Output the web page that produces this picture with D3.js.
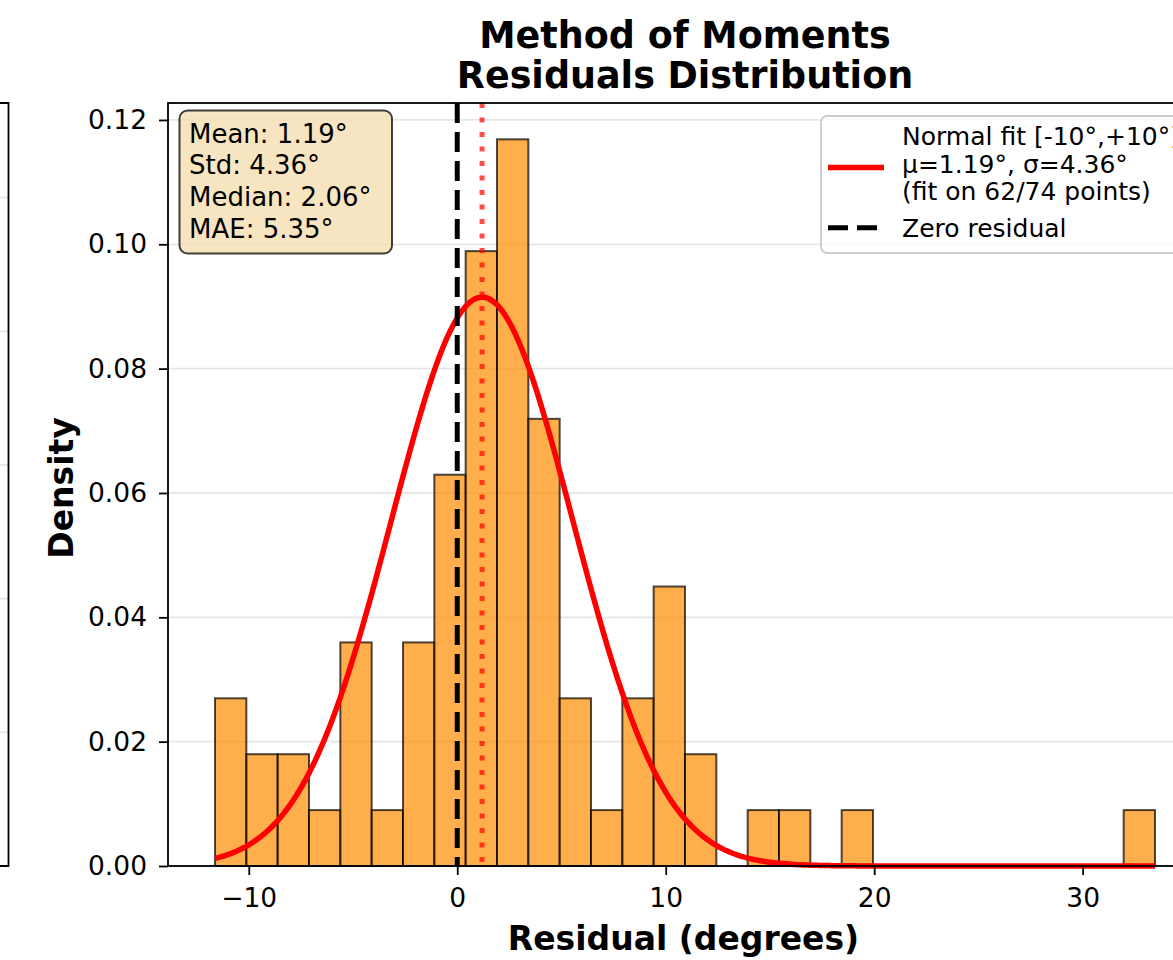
<!DOCTYPE html>
<html>
<head>
<meta charset="utf-8">
<script src="https://cdn.jsdelivr.net/npm/d3@7"></script>
<style>
  body { margin: 0; background: #fff; }
  text { font-family: "DejaVu Sans", sans-serif; fill: #000; }
</style>
</head>
<body>
<div id="canvas"></div>
<script>
// residual histogram: counts per bin
var binCounts = [3, 2, 2, 1, 4, 1, 4, 7, 11, 13, 8, 3, 1, 3, 5, 2, 0, 1, 1, 0, 1, 0, 0, 0, 0, 0, 0, 0, 0, 1];
var binStart = -11.62;
var binWidth = 1.503;
var nPoints = 74;

var fitMu = 1.19, fitSigma = 4.36;
var xTicks = [-10, 0, 10, 20, 30];
var yTicks = [0, 0.02, 0.04, 0.06, 0.08, 0.10, 0.12];
var statLines = ["Mean: 1.19°", "Std: 4.36°", "Median: 2.06°", "MAE: 5.35°"];
var fitLabel = ["Normal fit [-10°,+10°]", "μ=1.19°, σ=4.36°", "(fit on 62/74 points)"];
var zeroLabel = ["Zero residual"];
var titleLines = ["Method of Moments", "Residuals Distribution"];
var leftPanelGrid = [1, 2, 3, 4, 5]; // grid of the neighbouring panel, cut off at the left

var W = 1173, H = 960;
var plot = {left: 168, right: 1202, top: 103, bottom: 866};

var svg = d3.select("#canvas")
  .append("svg")
  .attr("width", W)
  .attr("height", H);

var bins = binCounts.map(function (c, i) {
  return {x0: binStart + i * binWidth, x1: binStart + (i + 1) * binWidth, density: c / (nPoints * binWidth)};
});
var dataMin = binStart, dataMax = binStart + binCounts.length * binWidth;
var pad = (dataMax - dataMin) * 0.05;
var maxDensity = d3.max(bins, function (d) { return d.density; });

var x = d3.scaleLinear()
  .domain([dataMin - pad, dataMax + pad])
  .range([plot.left, plot.right]);

var y = d3.scaleLinear()
  .domain([0, maxDensity * 1.05])
  .range([plot.bottom, plot.top]);

// neighbouring panel (only its right edge shows)
var yLeft = d3.scaleLinear().domain([0, 5.707]).range([plot.bottom, plot.top]);
svg.append("g").selectAll("line")
  .data(leftPanelGrid)
  .enter().append("line")
  .attr("x1", 0).attr("x2", 8.5)
  .attr("y1", function (d) { return yLeft(d); })
  .attr("y2", function (d) { return yLeft(d); })
  .attr("stroke", "#b0b0b0").attr("stroke-opacity", 0.3).attr("stroke-width", 1.8);
svg.append("path")
  .attr("d", "M0," + plot.top + "H8.5V" + plot.bottom + "H0")
  .attr("fill", "none").attr("stroke", "#000").attr("stroke-width", 1.8);

var g = svg.append("g");

// horizontal grid
g.append("g").selectAll("line")
  .data(yTicks)
  .enter().append("line")
  .attr("x1", plot.left).attr("x2", plot.right)
  .attr("y1", function (d) { return y(d); })
  .attr("y2", function (d) { return y(d); })
  .attr("stroke", "#b0b0b0")
  .attr("stroke-opacity", 0.3)
  .attr("stroke-width", 1.8);

// bars
g.append("g").selectAll("rect")
  .data(bins.filter(function (d) { return d.density > 0; }))
  .enter().append("rect")
  .attr("x", function (d) { return x(d.x0); })
  .attr("width", function (d) { return x(d.x1) - x(d.x0); })
  .attr("y", function (d) { return y(d.density); })
  .attr("height", function (d) { return y(0) - y(d.density); })
  .attr("fill", "#ff8c00")
  .attr("fill-opacity", 0.7)
  .attr("stroke", "#000")
  .attr("stroke-opacity", 0.7)
  .attr("stroke-width", 2);

// normal fit curve
var pdf = function (v) {
  return Math.exp(-0.5 * Math.pow((v - fitMu) / fitSigma, 2)) / (fitSigma * Math.sqrt(2 * Math.PI));
};
var curveX = d3.range(0, 301).map(function (i) { return dataMin + (dataMax - dataMin) * i / 300; });
g.append("path")
  .datum(curveX)
  .attr("d", d3.line().x(function (d) { return x(d); }).y(function (d) { return y(pdf(d)); }))
  .attr("fill", "none")
  .attr("stroke", "#ff0000")
  .attr("stroke-width", 5.5);

// zero residual and mean
g.append("line")
  .attr("x1", x(0)).attr("x2", x(0))
  .attr("y1", plot.top).attr("y2", plot.bottom)
  .attr("stroke", "#000").attr("stroke-width", 5)
  .attr("stroke-dasharray", "20,9");
g.append("line")
  .attr("x1", x(fitMu)).attr("x2", x(fitMu))
  .attr("y1", plot.top).attr("y2", plot.bottom)
  .attr("stroke", "#ff0000").attr("stroke-opacity", 0.7).attr("stroke-width", 5)
  .attr("stroke-dasharray", "5,9.5");

// spines
g.append("rect")
  .attr("x", plot.left).attr("y", plot.top)
  .attr("width", plot.right - plot.left).attr("height", plot.bottom - plot.top)
  .attr("fill", "none").attr("stroke", "#000").attr("stroke-width", 1.8);

// axes
var xAxisCall = d3.axisBottom(x)
  .tickValues(xTicks)
  .tickSize(9)
  .tickPadding(13)
  .tickFormat(function (d) { return d < 0 ? "\u2212" + Math.abs(d) : d; });
var xAxis = svg.append("g")
  .attr("transform", "translate(0," + plot.bottom + ")")
  .call(xAxisCall);

var yAxisCall = d3.axisLeft(y)
  .tickValues(yTicks)
  .tickSize(9)
  .tickPadding(12)
  .tickFormat(d3.format(".2f"));
var yAxis = svg.append("g")
  .attr("transform", "translate(" + plot.left + ",0)")
  .call(yAxisCall);

[xAxis, yAxis].forEach(function (a) {
  a.select(".domain").remove();
  a.selectAll(".tick line").attr("stroke", "#000").attr("stroke-width", 1.8);
  a.selectAll(".tick text")
    .style("font-family", "'DejaVu Sans', sans-serif")
    .style("font-size", "26.5px")
    .attr("fill", "#000");
});

// axis labels
svg.append("text")
  .attr("x", 683.5)
  .attr("y", 950)
  .attr("text-anchor", "middle")
  .style("font-size", "33px").style("font-weight", "bold")
  .text("Residual (degrees)");
svg.append("text")
  .attr("transform", "translate(73,488) rotate(-90)")
  .attr("text-anchor", "middle")
  .style("font-size", "33px").style("font-weight", "bold")
  .text("Density");

// title
svg.append("g").selectAll("text")
  .data(titleLines)
  .enter().append("text")
  .attr("x", (plot.left + plot.right) / 2)
  .attr("y", function (d, i) { return 48 + i * 40; })
  .attr("text-anchor", "middle")
  .style("font-size", "36.5px").style("font-weight", "bold")
  .text(function (d) { return d; });

// stats box
var stats = svg.append("g");
stats.append("rect")
  .attr("x", 179.5).attr("y", 110.5)
  .attr("width", 212.5).attr("height", 143)
  .attr("rx", 8)
  .attr("fill", "#f5deb3").attr("fill-opacity", 0.8)
  .attr("stroke", "#000").attr("stroke-opacity", 0.75).attr("stroke-width", 2);
stats.selectAll("text")
  .data(statLines)
  .enter().append("text")
  .attr("x", 189)
  .attr("y", function (d, i) { return 142.5 + i * 31.8; })
  .style("font-size", "26px")
  .text(function (d) { return d; });

// legend
var legend = svg.append("g");
legend.append("rect")
  .attr("x", 821).attr("y", 116)
  .attr("width", 370).attr("height", 137)
  .attr("rx", 6)
  .attr("fill", "#fff").attr("fill-opacity", 0.8)
  .attr("stroke", "#cccccc").attr("stroke-width", 1.8);
legend.append("line")
  .attr("x1", 828).attr("x2", 884).attr("y1", 167.5).attr("y2", 167.5)
  .attr("stroke", "#ff0000").attr("stroke-width", 5.5);
legend.append("line")
  .attr("x1", 828).attr("x2", 884).attr("y1", 227.7).attr("y2", 227.7)
  .attr("stroke", "#000").attr("stroke-width", 5)
  .attr("stroke-dasharray", "20,9");
legend.selectAll("text.fit")
  .data(fitLabel)
  .enter().append("text")
  .attr("class", "fit")
  .attr("x", 902)
  .attr("y", function (d, i) { return 145 + i * 27.5; })
  .style("font-size", "25px")
  .text(function (d) { return d; });
legend.selectAll("text.zero")
  .data(zeroLabel)
  .enter().append("text")
  .attr("class", "zero")
  .attr("x", 902)
  .attr("y", 237)
  .style("font-size", "25px")
  .text(function (d) { return d; });
</script>
</body>
</html>
